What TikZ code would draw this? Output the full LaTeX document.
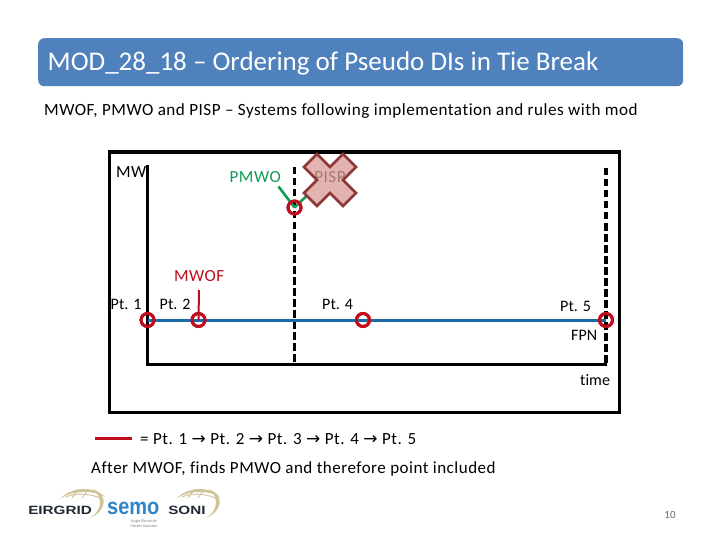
\documentclass[tikz,border=0pt]{standalone}
\usepackage{fontspec}
\setmainfont{Carlito}[Ligatures=NoCommon]
\newfontfamily\spaced{Carlito}[Ligatures=NoCommon,LetterSpace=3]
\newfontfamily\logofont{Liberation Sans}
\newfontfamily\arrowfont{DejaVu Sans}
\definecolor{titleblue}{HTML}{4F81BD}
\definecolor{ptred}{HTML}{C00D1E}
\definecolor{mwofred}{HTML}{C00D1E}
\definecolor{pmwogreen}{HTML}{119A55}
\definecolor{flowblue}{HTML}{1B6AA5}
\definecolor{crossfill}{HTML}{D99694}
\definecolor{crossedge}{HTML}{8C3836}
\definecolor{logogold}{HTML}{CFC39A}
\definecolor{semoblue}{HTML}{2E86C8}
\definecolor{logodark}{HTML}{1E2A36}
\tikzset{
  x=1pt,y=-1pt,
  lbl/.style={inner sep=0pt,font=\fontsize{16}{18}\selectfont,text=black},
  caplbl/.style={inner sep=0pt,font=\spaced\fontsize{17}{18}\selectfont,text=black},
  ptmark/.style={circle,draw=ptred,line width=3pt,minimum size=13pt,inner sep=0pt,fill=none},
  axisline/.style={line width=3pt,black},
  dashline/.style={line width=3.2pt,black,dash pattern=on 7.5pt off 3.5pt},
  flow/.style={line width=3pt,flowblue},
  greenline/.style={line width=2.6pt,pmwogreen},
  swoosh/.style={line width=0.9pt,logogold},
  logotxt/.style={inner sep=0pt,font=\logofont\bfseries\fontsize{12}{13}\selectfont,text=logodark},
}
\newcommand{\arr}{{\arrowfont\fontsize{17}{15}\selectfont→}}
\begin{document}
\begin{tikzpicture}
\useasboundingbox (0,0) rectangle (720,540);
\fill[white] (0,0) rectangle (720,540);
% title
\node[rounded corners=6pt,fill=titleblue,minimum width=645pt,minimum height=48pt,inner sep=0pt,anchor=north west] (title) at (38,38) {};
\node[anchor=west,inner sep=0pt,text=white,font=\fontsize{27}{30}\selectfont] (titletext) at (47.5,63) {MOD\_28\_18 – Ordering of Pseudo DIs in Tie Break};
\node[inner sep=0pt,anchor=west,font=\spaced\fontsize{17.1}{20}\selectfont] (sub) at (44,111) {MWOF, PMWO and PISP – Systems following implementation and rules with mod};
% frame
\node[draw=black,line width=3.2pt,minimum width=510pt,minimum height=260pt,inner sep=0pt,anchor=north west] (frame) at (108,150.5) {};
% coordinates
\coordinate (axtop) at (147.5,165);
\coordinate (origin) at (147.5,364.5);
\coordinate (axend) at (607,364.5);
\coordinate (d1top) at (294.5,167);
\coordinate (d1bot) at (294.5,364);
\coordinate (d2top) at (606,168);
\coordinate (d2bot) at (606,364);
\draw[dashline] (d1top) -- (d1bot);
\draw[dashline] (d2top) -- (d2bot);
\draw[axisline] (axtop) -- (origin) -- (axend);
% points
\node (p1) at (147.5,320) [ptmark] {};
\node (p2) at (198.5,320) [ptmark] {};
\node (p3) at (294.5,207.5) [ptmark] {};
\node (p4) at (363,320) [ptmark] {};
\node (p5) at (606,320) [ptmark] {};
\draw[flow] (p1.center) -- (p5.center);
\node[ptmark] at (147.5,320) {};
\node[ptmark] at (363,320) {};
\node[ptmark] at (606,320) {};
% labels
\node[caplbl,anchor=west] (mw) at (116,172.5) {MW};
\node[caplbl,anchor=west,text=pmwogreen] (pmwo) at (229.5,177.5) {PMWO};
\node[caplbl,anchor=west,text=mwofred] (mwof) at (174,276.5) {MWOF};
\node[lbl,anchor=west] (pt1) at (110.5,304) {Pt. 1};
\node[lbl,anchor=west] (pt2) at (159.5,304) {Pt. 2};
\node[lbl,anchor=west] (pt4) at (322,304) {Pt. 4};
\node[lbl,anchor=west] (pt5) at (560,306) {Pt. 5};
\node[lbl,anchor=west] (fpn) at (571,335.5) {FPN};
\node[lbl,anchor=west] (time) at (580,380.5) {time};
% connectors
\coordinate (gA) at (278.5,186.5);
\coordinate (gB) at (306,196.5);
\draw[greenline] (gA) -- (p3.center);
\draw[greenline] (gB) -- (p3.center);
\node[ptmark] at (294.5,207.5) {};
\coordinate (mwofA) at (199,290);
\draw[line width=2pt,mwofred] (mwofA) -- (p2.center);
\node[ptmark] at (198.5,320) {};
% PISP and cross
\node[caplbl,anchor=center,text=black!80!green] (pisp) at (330,177.5) {PISP};
\begin{scope}[shift={(330,180)}]
\path[fill=crossfill,fill opacity=0.72,draw=crossedge,line width=2.8pt,line join=miter]
  (-26,-13) -- (-13,-26) -- (0,-13) -- (13,-26) -- (26,-13) -- (13,0) -- (26,13) -- (13,26) -- (0,13) -- (-13,26) -- (-26,13) -- (-13,0) -- cycle;
\end{scope}
% legend
\coordinate (legA) at (95,438);
\coordinate (legB) at (132,438);
\draw[line width=3pt,ptred] (legA) -- (legB);
\node[inner sep=0pt,anchor=west,font=\spaced\fontsize{17}{20}\selectfont] (legend) at (140,439) {= Pt. 1 \arr{} Pt. 2 \arr{} Pt. 3 \arr{} Pt. 4 \arr{} Pt. 5};
\node[inner sep=0pt,anchor=west,font=\spaced\fontsize{17}{20}\selectfont] (after) at (91,469) {After MWOF, finds PMWO and therefore point included};
% logos
\node[logotxt,anchor=west,xscale=1.27] (eirgrid) at (28,510) {EIRGRID};
\fill[logogold] (60,499) .. controls (72,486) and (95,486) .. (105,497) .. controls (94,490) and (72,490) .. (60,499) -- cycle;
\fill[logogold] (92,489) .. controls (108,494) and (108,510) .. (90,518) .. controls (103,510) and (103,496) .. (92,489) -- cycle;
\draw[swoosh] (66,497) .. controls (75,493) and (88,493) .. (100,498);
\draw[swoosh] (78,490) -- (72,498);
\draw[swoosh] (88,490) -- (82,498);
\node[inner sep=0pt,anchor=west,xscale=0.87,text=semoblue,font=\logofont\bfseries\fontsize{23}{24}\selectfont] (semo) at (107,508) {semo};
\node[inner sep=0pt,text=gray,font=\fontsize{4}{4.2}\selectfont,align=center] (semosub) at (144,524) {Single Electricity\\Market Operator};
\node[logotxt,anchor=west,xscale=1.27] (soni) at (168,510) {SONI};
\fill[logogold] (176,499) .. controls (188,486) and (210,486) .. (220,497) .. controls (209,490) and (188,490) .. (176,499) -- cycle;
\fill[logogold] (208,489) .. controls (224,494) and (224,510) .. (206,518) .. controls (219,510) and (219,496) .. (208,489) -- cycle;
\draw[swoosh] (182,497) .. controls (191,493) and (204,493) .. (215,498);
\draw[swoosh] (194,490) -- (188,498);
\draw[swoosh] (204,490) -- (198,498);
% page number
\node[inner sep=0pt,text=gray!85!black,font=\fontsize{11}{13}\selectfont] (page) at (670,514.5) {10};
\end{tikzpicture}
\end{document}
